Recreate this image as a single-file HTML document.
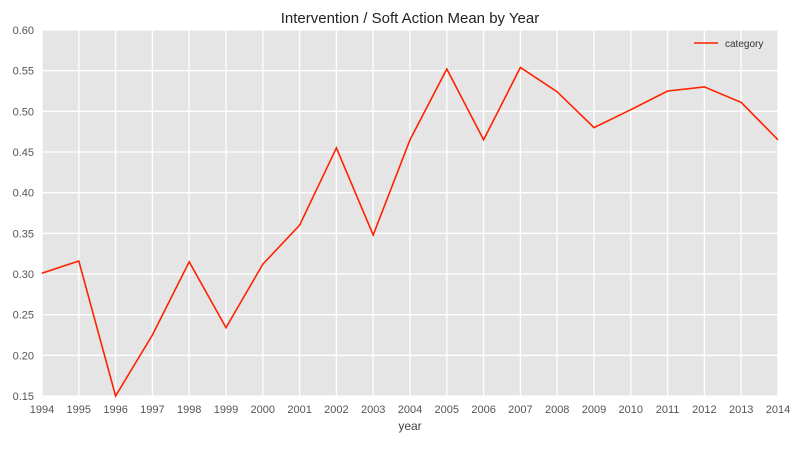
<!DOCTYPE html>
<html><head><meta charset="utf-8"><style>
body{margin:0;background:#fff;}
svg text{font-family:"Liberation Sans",sans-serif;}
</style></head><body>
<svg id="chart" width="808" height="448"></svg>
<script>
const years=[1994,1995,1996,1997,1998,1999,2000,2001,2002,2003,2004,2005,2006,2007,2008,2009,2010,2011,2012,2013,2014];
const values=[0.301,0.316,0.150,0.225,0.315,0.234,0.312,0.360,0.455,0.348,0.465,0.552,0.465,0.554,0.524,0.480,0.502,0.525,0.530,0.511,0.465];
const yTicks=[0.15,0.20,0.25,0.30,0.35,0.40,0.45,0.50,0.55,0.60];
const L=42,R=778,T=30,B=396;
const x=v=>L+(v-1994)/(2014-1994)*(R-L);
const y=v=>B-(v-0.15)/(0.60-0.15)*(B-T);
const svg=document.getElementById('chart');
const NS='http://www.w3.org/2000/svg';
function mk(tag,attrs,parent){const e=document.createElementNS(NS,tag);for(const k in attrs)e.setAttribute(k,attrs[k]);(parent||svg).appendChild(e);return e;}
const bg=mk('rect',{x:L,y:T,width:R-L,height:B-T,fill:'#e5e5e5'});


const grid=mk('g',{});


years.forEach(v=>{mk('line',{x1:x(v),x2:x(v),y1:T,y2:B,stroke:'#fff','stroke-width':1.3},grid);
const t=mk('text',{x:x(v),y:B+17,'text-anchor':'middle','font-size':11,fill:'#555'});t.textContent=v;

});
yTicks.forEach(v=>{mk('line',{x1:L,x2:R,y1:y(v),y2:y(v),stroke:'#fff','stroke-width':1.3},grid);
const t=mk('text',{x:L-8,y:y(v)+4,'text-anchor':'end','font-size':11,fill:'#555'});t.textContent=v.toFixed(2);

});
const line=mk('polyline',{points:years.map((v,i)=>x(v)+','+y(values[i])).join(' '),fill:'none',stroke:'#ff2200','stroke-width':1.6});


const title=mk('text',{x:(L+R)/2,y:23,'text-anchor':'middle','font-size':15,fill:'#222'});title.textContent='Intervention / Soft Action Mean by Year';


const xt=mk('text',{x:(L+R)/2,y:430,'text-anchor':'middle','font-size':12,fill:'#444'});xt.textContent='year';


const leg=mk('g',{});


mk('line',{x1:694,x2:718,y1:43,y2:43,stroke:'#ff2200','stroke-width':1.6},leg);
const lt=mk('text',{x:725,y:47,'font-size':10,fill:'#333'},leg);lt.textContent='category';
</script>
</body></html>
